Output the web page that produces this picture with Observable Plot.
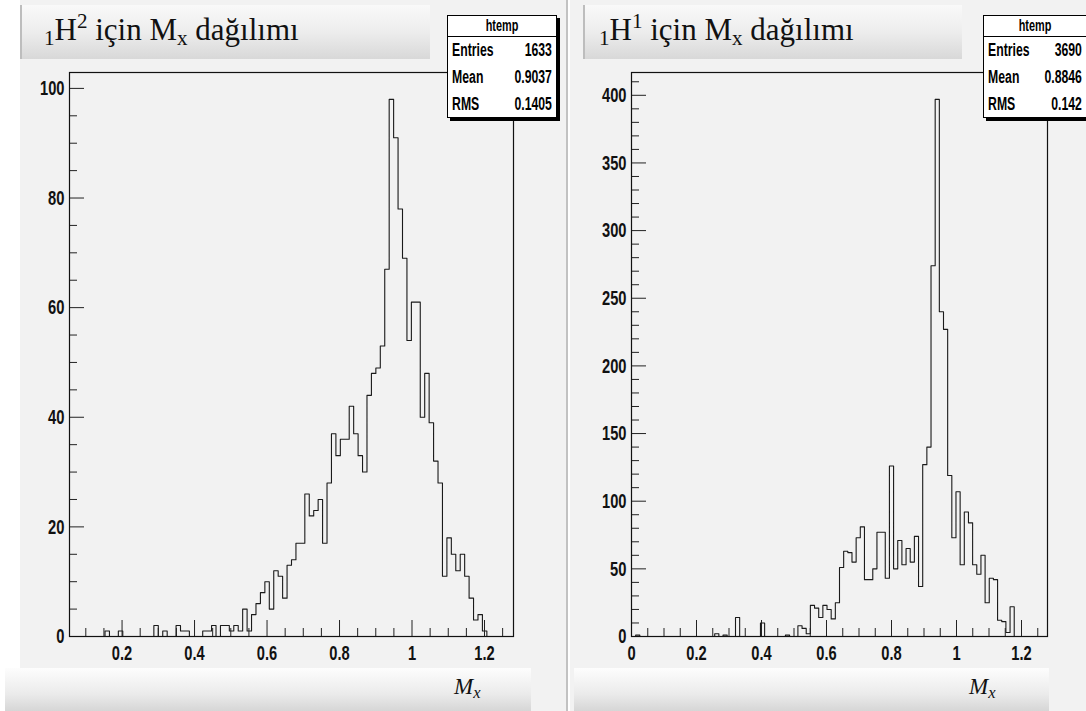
<!DOCTYPE html>
<html>
<head>
<meta charset="utf-8">
<script src="https://cdn.jsdelivr.net/npm/d3@7"></script>
<script src="https://cdn.jsdelivr.net/npm/@observablehq/plot@0.6"></script>
<style>
  body { margin: 0; background: #fff; }
  #page { position: relative; width: 1086px; height: 711px; overflow: hidden; background: #fff; }
  .canvas { position: absolute; top: 0; height: 711px; background: #f2f2f2; }
  .sep { position: absolute; top: 0; height: 711px; width: 2px; background: #c2c2c2; }
  .plot { position: absolute; top: 0; }
  .title { position: absolute; top: 5px; height: 54px; box-sizing: border-box;
    background: linear-gradient(#f9f9f9, #ededed 50%, #d8d8d8);
    border-left: 2px solid #bdbdbd;
    font-family: "Liberation Serif", "Times New Roman", serif; font-size: 31px; color: #111;
    line-height: 50px; white-space: nowrap; padding-left: 22px; }
  .title sub { font-size: 0.68em; vertical-align: -0.22em; line-height: 0; }
  .title sup { font-size: 0.68em; vertical-align: 0.55em; line-height: 0; }
  .stats { position: absolute; top: 15px; height: 103px; box-sizing: border-box;
    background: #fff; border: 1px solid #000; box-shadow: 3px 3px 0 #000; overflow: hidden;
    font-family: "Liberation Sans", Arial, sans-serif;
    font-weight: bold; font-size: 18px; color: #000; }
  .stats .inner { transform: scaleX(0.68); transform-origin: left top; }
  .stats .hd { height: 20px; line-height: 20px; text-align: center; border-bottom: 1px solid #000; font-size: 16px; }
  .stats .row { height: 27px; line-height: 27px; display: flex; justify-content: space-between; padding: 0 6px; }
  .xbox { position: absolute; top: 668px; height: 43px;
    background: linear-gradient(#fdfdfd, #ebebeb 60%, #d6d6d6); }
  .xlab { position: absolute; top: 6px; font-family: "Liberation Serif", "DejaVu Serif", serif;
    font-style: italic; font-size: 23px; color: #111; }
  .xlab sub { font-size: 0.72em; vertical-align: -0.25em; line-height: 0; }
</style>
</head>
<body>
<div id="page"></div>
<script>
// ---------- data ----------
// 1H2 histogram: 100 bins on [0.055, 1.28]
const h2Range = [0.055, 1.28];
const h2Counts = [
  0,0,0,0,0,0,0,0,1,0,
  0,1,0,0,0,0,0,0,0,2,
  0,1,0,0,2,1,1,0,0,0,
  1,1,2,0,2,2,1,2,1,5,
  1,4,6,8,10,5,12,11,7,13,
  14,17,17,26,22,23,25,17,28,37,
  33,36,36,42,37,33,30,44,48,49,
  53,67,98,91,78,69,54,61,61,40,
  48,39,32,28,11,18,15,12,15,11,
  7,3,4,1,0,0,0,0,0,0
];
const h2Stats = {entries: "1633", mean: "0.9037", rms: "0.1405"};

// 1H1 histogram: 100 bins on [0, 1.28]
const h1Range = [0, 1.28];
const h1Counts = [
  0,1,0,0,0,0,0,0,0,0,
  0,0,0,0,0,0,0,0,0,0,
  2,0,1,0,0,14,0,0,0,0,
  0,10,0,0,0,0,0,1,0,0,
  8,6,2,23,21,14,23,20,13,25,
  51,63,62,55,73,81,42,42,50,77,
  77,43,126,50,71,53,65,55,74,37,
  127,140,274,397,240,227,119,73,107,53,
  92,84,53,46,60,25,43,42,12,11,
  3,22,0,0,0,0,0,0,0,0
];
const h1Stats = {entries: "3690", mean: "0.8846", rms: "0.142"};

// tick values
const h2XMajor = [0.2, 0.4, 0.6, 0.8, 1, 1.2];
const h2XMinor = [0.1, 0.15, 0.25, 0.3, 0.35, 0.45, 0.5, 0.55, 0.65, 0.7, 0.75, 0.85, 0.9, 0.95, 1.05, 1.1, 1.15, 1.25];
const h2YMajor = [0, 20, 40, 60, 80, 100];
const h2YMinor = [5, 10, 15, 25, 30, 35, 45, 50, 55, 65, 70, 75, 85, 90, 95];
const h1XMajor = [0, 0.2, 0.4, 0.6, 0.8, 1, 1.2];
const h1XMinor = [0.05, 0.1, 0.15, 0.25, 0.3, 0.35, 0.45, 0.5, 0.55, 0.65, 0.7, 0.75, 0.85, 0.9, 0.95, 1.05, 1.1, 1.15, 1.25];
const h1YMajor = [0, 50, 100, 150, 200, 250, 300, 350, 400];
const h1YMinor = [10,20,30,40,60,70,80,90,110,120,130,140,160,170,180,190,210,220,230,240,260,270,280,290,310,320,330,340,360,370,380,390,410];

const titles = ["<sub>1</sub>H<sup>2</sup> için M<sub>x</sub> dağılımı", "<sub>1</sub>H<sup>1</sup> için M<sub>x</sub> dağılımı"];
const xAxisTitle = "M<sub>x</sub>";

// ---------- drawing ----------
const page = document.getElementById("page");
function el(cls, style, html) {
  const d = document.createElement("div");
  d.className = cls;
  Object.assign(d.style, style);
  if (html != null) d.innerHTML = html;
  page.appendChild(d);
  return d;
}

const tickFont = {fontFamily: "Liberation Sans, Arial, sans-serif", fontWeight: "bold", fontSize: 21, fill: "#111"};

function histPlot(counts, range, xMajor, xMinor, yMajor, yMinor, geom) {
  const n = counts.length;
  const w = (range[1] - range[0]) / n;
  const pts = counts.map((c, i) => ({x: range[0] + i * w, y: c}));
  pts.push({x: range[1], y: 0});
  const ymax = d3.max(counts) * 1.05;
  const fw = geom.width - geom.ml - geom.mr;
  const fh = geom.height - geom.mt - geom.mb;
  return Plot.plot({
    width: geom.width, height: geom.height,
    marginLeft: geom.ml, marginRight: geom.mr, marginTop: geom.mt, marginBottom: geom.mb,
    style: {background: "transparent", overflow: "visible"},
    x: {domain: range, axis: null},
    y: {domain: [0, ymax], axis: null},
    marks: [
      Plot.line(pts, {x: "x", y: "y", curve: "step-after", stroke: "#1a1a1a", strokeWidth: 1.1}),
      Plot.tickX(xMajor, {x: d => d, insetTop: fh - 16, stroke: "#222"}),
      Plot.tickX(xMinor, {x: d => d, insetTop: fh - 8, stroke: "#222"}),
      Plot.tickY(yMajor, {y: d => d, insetRight: fw - 15, stroke: "#222"}),
      Plot.tickY(yMinor, {y: d => d, insetRight: fw - 8, stroke: "#222"}),
      Plot.frame({stroke: "#111", strokeWidth: 1.2}),
      Plot.text(xMajor, {x: d => d, frameAnchor: "bottom", dy: 23, text: d => String(d), ...tickFont}),
      Plot.text(yMajor, {y: d => d, frameAnchor: "left", dx: -5, textAnchor: "end", text: d => String(d), ...tickFont})
    ]
  });
}

// narrow (condensed) tick labels like the original ROOT rendering
function condense(svg, f) {
  svg.querySelectorAll("text").forEach(t => {
    const L = t.getComputedTextLength();
    if (L > 0) {
      t.setAttribute("textLength", (L * f).toFixed(1));
      t.setAttribute("lengthAdjust", "spacingAndGlyphs");
    }
  });
}

// backgrounds
el("canvas", {left: "20px", width: "546px"});
el("canvas", {left: "570px", width: "516px"});
el("sep", {left: "566px"});

// plots
const p2 = histPlot(h2Counts, h2Range, h2XMajor, h2XMinor, h2YMajor, h2YMinor,
  {width: 566, height: 711, ml: 69, mr: 53, mt: 72, mb: 75});
p2.classList.add("plot"); p2.style.left = "0px"; page.appendChild(p2);
const p1 = histPlot(h1Counts, h1Range, h1XMajor, h1XMinor, h1YMajor, h1YMinor,
  {width: 520, height: 711, ml: 65, mr: 39, mt: 72, mb: 75});
p1.classList.add("plot"); p1.style.left = "566px"; page.appendChild(p1);
condense(p2, 0.7);
condense(p1, 0.7);

// titles
el("title", {left: "20px", width: "410px"}, titles[0]);
el("title", {left: "583px", width: "379px", paddingLeft: "14px"}, titles[1]);

// stats boxes (content drawn wide, then condensed horizontally)
function stats(left, width, s) {
  const innerW = ((width - 2) / 0.68).toFixed(1);
  el("stats", {left: left + "px", width: width + "px"},
    `<div class="inner" style="width:${innerW}px">` +
    `<div class="hd">htemp</div>` +
    `<div class="row"><span>Entries</span><span>${s.entries}</span></div>` +
    `<div class="row"><span>Mean</span><span>${s.mean}</span></div>` +
    `<div class="row"><span>RMS</span><span>${s.rms}</span></div></div>`);
}
stats(447, 110, h2Stats);
stats(983, 104, h1Stats);

// bottom axis-title boxes
const b1 = el("xbox", {left: "5px", width: "526px"});
const l1 = document.createElement("span"); l1.className = "xlab"; l1.style.left = "449px"; l1.innerHTML = xAxisTitle; b1.appendChild(l1);
const b2 = el("xbox", {left: "574px", width: "475px"});
const l2 = document.createElement("span"); l2.className = "xlab"; l2.style.left = "395px"; l2.innerHTML = xAxisTitle; b2.appendChild(l2);
</script>
</body>
</html>
